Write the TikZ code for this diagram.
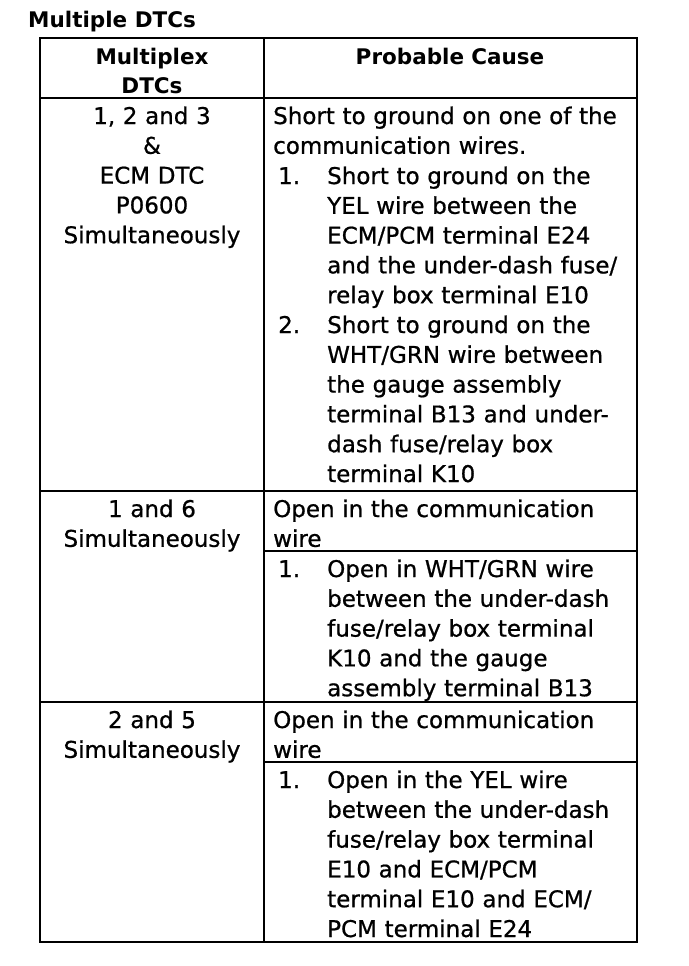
\documentclass[tikz,border=0pt]{standalone}
\usepackage{fontspec}
\setmainfont{DejaVu Sans}
\newfontfamily\bodyfont{DejaVu Sans}[FakeBold=0.8]
\begin{document}
\begin{tikzpicture}[
      x=1pt, y=-1pt,
      rule/.style={line width=1.6pt},
      title/.style={inner sep=0pt, anchor=base west, font=\bfseries\fontsize{21.5}{26}\selectfont},
      head/.style={inner sep=0pt, anchor=base, text width=220pt, align=center,
        font=\bfseries\fontsize{21.5}{28.7}\selectfont},
      dtc/.style={inner sep=0pt, anchor=base, text width=220pt, align=center,
        font=\bodyfont\fontsize{23}{29.8}\selectfont},
      cause/.style={inner sep=0pt, anchor=base west, text width=#1, align=left,
        font=\bodyfont\fontsize{23}{29.8}\selectfont},
      cause/.default=320pt,
      num/.style={inner sep=0pt, anchor=base west, font=\bodyfont\fontsize{23}{29.8}\selectfont}
    ]
    \useasboundingbox (0, 0) rectangle (688, 966);

    % title
    \node [title] (title) at (28, 28) {Multiple DTCs};

    % frame and column divider
    \draw [rule] (40, 38) rectangle (637, 942);
    \draw [rule] (264, 38) -- (264, 942);

    % row lines
    \foreach \y in {98, 491, 702} {
      \draw [rule] (40, \y) -- (637, \y);
    }

    % lines inside the cause column
    \foreach \y in {551, 762} {
      \draw [rule] (264, \y) -- (637, \y);
    }

    % header
    \node [head] (hdtc) at (152, 65) {Multiplex\\DTCs};
    \node [head, text width=360pt] (hcause) at (450, 65) {Probable Cause};

    % first row
    \node [dtc] (dtcA) at (152, 124) {1, 2 and 3\\\&\\ECM DTC\\P0600\\Simultaneously};
    \node [cause=360pt] (causeA) at (273, 124) {Short to ground on one of the\\communication wires.};
    \node [num] (numA1) at (278, 184) {1.};
    \node [cause] (causeA1) at (327, 184) {Short to ground on the\\YEL wire between the\\ECM/PCM terminal E24\\and the under-dash fuse/\\relay box terminal E10};
    \node [num] (numA2) at (278, 333) {2.};
    \node [cause] (causeA2) at (327, 333) {Short to ground on the\\WHT/GRN wire between\\the gauge assembly\\terminal B13 and under-\\dash fuse/relay box\\terminal K10};

    % second row
    \node [dtc] (dtcB) at (152, 517) {1 and 6\\Simultaneously};
    \node [cause=360pt] (causeB) at (273, 517) {Open in the communication\\wire};
    \node [num] (numB1) at (278, 577) {1.};
    \node [cause] (causeB1) at (327, 577) {Open in WHT/GRN wire\\between the under-dash\\fuse/relay box terminal\\K10 and the gauge\\assembly terminal B13};

    % third row
    \node [dtc] (dtcC) at (152, 728) {2 and 5\\Simultaneously};
    \node [cause=360pt] (causeC) at (273, 728) {Open in the communication\\wire};
    \node [num] (numC1) at (278, 788) {1.};
    \node [cause] (causeC1) at (327, 788) {Open in the YEL wire\\between the under-dash\\fuse/relay box terminal\\E10 and ECM/PCM\\terminal E10 and ECM/\\PCM terminal E24};
  \end{tikzpicture}
\end{document}
